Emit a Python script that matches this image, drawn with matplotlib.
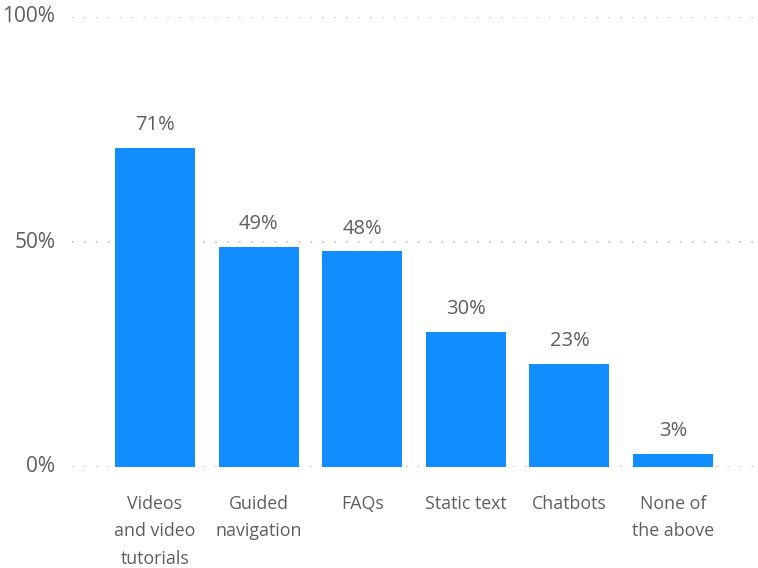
import matplotlib
matplotlib.use("Agg")
import matplotlib.pyplot as plt

categories = ["Videos\nand video\ntutorials", "Guided\nnavigation", "FAQs",
              "Static text", "Chatbots", "None of\nthe above"]
values = [71, 49, 48, 30, 23, 3]
y_ticks = [0, 50, 100]
y_tick_labels = ["0%", "50%", "100%"]

BAR_COLOR = "#118DFF"
TEXT_COLOR = "#605E5C"
GRID_COLOR = "#C8C6C4"

plt.rcParams["font.family"] = ["Open Sans", "DejaVu Sans"]

fig = plt.figure(figsize=(7.58, 5.68), dpi=100)
ax = fig.add_axes([72 / 758, 101 / 568, 686 / 758, 450 / 568])

x = list(range(len(categories)))
ax.bar(x, values, width=0.772, color=BAR_COLOR, zorder=3)

for xi, v in zip(x, values):
    ax.annotate(f"{v}%", (xi, v), xytext=(0, 9), textcoords="offset points",
                ha="center", va="bottom", fontsize=14.5, color=TEXT_COLOR)

ax.set_xlim(-0.80, 5.82)
ax.set_ylim(0, 100)
ax.set_yticks(y_ticks)
ax.set_yticklabels(y_tick_labels, fontsize=15)
ax.set_xticks(x)
ax.set_xticklabels(categories, linespacing=1.68, fontsize=12.8)

ax.yaxis.grid(True, color=GRID_COLOR, linestyle=(0, (1, 5.6)), linewidth=1.3, zorder=0)
ax.xaxis.grid(False)
for s in ax.spines.values():
    s.set_visible(False)
ax.tick_params(axis="both", length=0, colors=TEXT_COLOR)
ax.tick_params(axis="y", pad=12)
ax.tick_params(axis="x", pad=20)
for lbl in ax.get_yticklabels():
    lbl.set_va("center")

fig.savefig("out.png", dpi=100, facecolor="white")
